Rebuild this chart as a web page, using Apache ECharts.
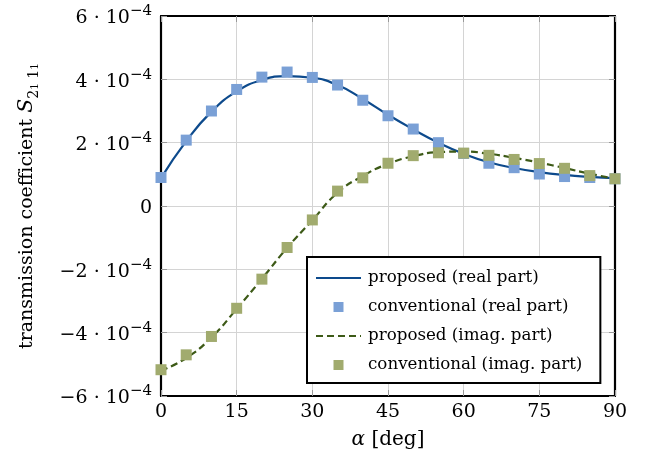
<!DOCTYPE html>
<html>
<head>
<meta charset="utf-8">
<script src="https://cdn.jsdelivr.net/npm/echarts@6/dist/echarts.min.js"></script>
<style>html,body{margin:0;padding:0;background:#fff}#c{width:649px;height:462px}</style>
</head>
<body>
<div id="c"></div>
<script>
// values in units of 1e-4
const angles = [0,5,10,15,20,25,30,35,40,45,50,55,60,65,70,75,80,85,90];
const proposedReal = [0.88,2.05,2.98,3.62,3.98,4.10,4.05,3.82,3.38,2.88,2.42,2.00,1.65,1.38,1.20,1.07,0.98,0.92,0.88];
const conventionalReal = [0.90,2.08,3.00,3.68,4.07,4.23,4.06,3.82,3.34,2.85,2.43,2.00,1.66,1.35,1.21,1.01,0.93,0.90,0.86];
const proposedImag = [-5.20,-4.80,-4.15,-3.25,-2.30,-1.32,-0.45,0.42,0.95,1.33,1.57,1.70,1.72,1.65,1.52,1.37,1.20,1.02,0.86];
const conventionalImag = [-5.17,-4.70,-4.12,-3.23,-2.31,-1.31,-0.44,0.47,0.89,1.35,1.59,1.68,1.67,1.60,1.47,1.34,1.19,0.96,0.86];
const xTicks = [0,15,30,45,60,75,90];
const yTicks = [-6,-4,-2,0,2,4,6];
const seriesNames = ['proposed (real part)','conventional (real part)','proposed (imag. part)','conventional (imag. part)'];

const F = 'DejaVu Serif';
const FS = 19;
const pair = a => angles.map((x,i)=>[x,a[i]]);
const chart = echarts.init(document.getElementById('c'));
const tickStyle = {show:true, inside:true, length:6, lineStyle:{color:'#999', width:1}};
const frame = {show:true, onZero:false, lineStyle:{color:'#000', width:2.2}};
const solidIcon = 'path://M0,0h45v2.2h-45z';
const dashIcon = 'path://M0,0h7v2.2h-7zM11,0h7v2.2h-7zM22,0h7v2.2h-7zM33,0h7v2.2h-7zM44,0h1v2.2h-1z';
const squareIcon = 'path://M0,0h10v10h-10z';
chart.setOption({
  animation:false,
  textStyle:{fontFamily:F},
  grid:{left:161, right:34, top:16, bottom:66},
  xAxis:[{
    type:'value', min:xTicks[0], max:xTicks[xTicks.length-1], interval:15,
    axisLine:frame, axisTick:tickStyle,
    splitLine:{show:true, lineStyle:{color:'#d4d4d4', width:1}},
    axisLabel:{fontFamily:F, fontSize:FS, color:'#000', margin:7},
    name:'{it|α} [deg]', nameLocation:'middle', nameGap:34,
    nameTextStyle:{fontFamily:F, fontSize:20, color:'#000', rich:{it:{fontStyle:'italic', fontFamily:F, fontSize:20}}}
  },{
    type:'value', position:'top', min:0, max:90, interval:15,
    axisLine:frame, axisTick:tickStyle, axisLabel:{show:false}, splitLine:{show:false}
  }],
  yAxis:[{
    type:'value', min:yTicks[0], max:yTicks[yTicks.length-1], interval:2,
    axisLine:frame, axisTick:tickStyle,
    splitLine:{show:true, lineStyle:{color:'#d4d4d4', width:1}},
    axisLabel:{fontFamily:F, fontSize:FS, color:'#000', margin:9,
      formatter:v=>{ if(Math.abs(v)<1e-9) return '{n|0}'; const s=(v<0?'−':'')+Math.abs(Math.round(v)); return '{n|'+s+' · 10}{sup|−4}'; },
      rich:{n:{fontFamily:F, fontSize:FS, lineHeight:24, verticalAlign:'bottom'},
            sup:{fontFamily:F, fontSize:15, lineHeight:24, verticalAlign:'top'}}
    },
    name:'transmission coefficient {it|S}{sub|2}{ss|1}{sub| 1}{ss|1}', nameLocation:'middle', nameGap:120, nameRotate:90,
    nameTextStyle:{fontFamily:F, fontSize:19, color:'#000',
      rich:{it:{fontStyle:'italic', fontFamily:F, fontSize:20.5, lineHeight:28, verticalAlign:'middle'},
            sub:{fontFamily:F, fontSize:14, lineHeight:14, verticalAlign:'bottom'},
            ss:{fontFamily:F, fontSize:10.5, lineHeight:10, verticalAlign:'bottom'}}}
  },{
    type:'value', position:'right', min:-6, max:6, interval:2,
    axisLine:frame, axisTick:tickStyle, axisLabel:{show:false}, splitLine:{show:false}
  }],
  legend:{
    orient:'vertical', left:307, top:257,
    padding:[10,18,7,9], itemGap:7, itemWidth:45, itemHeight:10,
    borderColor:'#000', borderWidth:2, backgroundColor:'#fff',
    textStyle:{fontFamily:F, fontSize:16.7, lineHeight:22, color:'#000', padding:[0,0,0,2]},
    data:[
      {name:seriesNames[0], icon:solidIcon},
      {name:seriesNames[1], icon:squareIcon},
      {name:seriesNames[2], icon:dashIcon},
      {name:seriesNames[3], icon:squareIcon}
    ]
  },
  series:[
    {name:seriesNames[0], type:'line', data:pair(proposedReal), smooth:0.5, symbol:'none',
      lineStyle:{color:'#0d4a8c', width:2.2}, itemStyle:{color:'#0d4a8c'}, z:2},
    {name:seriesNames[1], type:'scatter', data:pair(conventionalReal), symbol:'rect', symbolSize:11,
      itemStyle:{color:'#7aa0d6', opacity:1}, z:3},
    {name:seriesNames[2], type:'line', data:pair(proposedImag), smooth:0.5, symbol:'none',
      lineStyle:{color:'#3d5a17', width:2.2, type:[7,4]}, itemStyle:{color:'#3d5a17'}, z:4},
    {name:seriesNames[3], type:'scatter', data:pair(conventionalImag), symbol:'rect', symbolSize:11,
      itemStyle:{color:'#a1ab6e', opacity:1}, z:5}
  ]
});
</script>
</body>
</html>
